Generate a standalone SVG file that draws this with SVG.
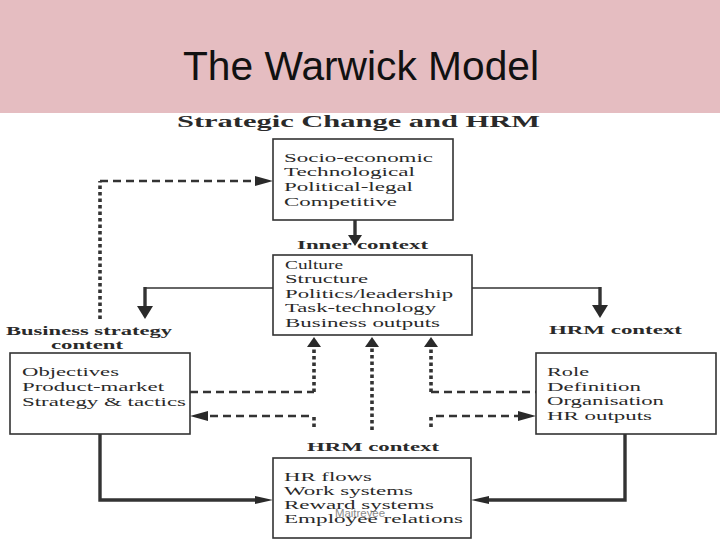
<svg xmlns="http://www.w3.org/2000/svg" width="720" height="540" viewBox="0 0 720 540">
<defs>
<style>
.box{fill:#fff;stroke:#333;stroke-width:1.6}
.t{font-family:"Liberation Serif","Times New Roman",serif;font-size:13.5px;fill:#2a2a2a}
.lb{font-family:"Liberation Serif","Times New Roman",serif;font-size:13.5px;font-weight:bold;fill:#2a2a2a}
.dash{fill:none;stroke:#333;stroke-width:2.6;stroke-dasharray:8 5}
.dot{fill:none;stroke:#333;stroke-width:3.6;stroke-dasharray:3.5 3}
.thin{fill:none;stroke:#333;stroke-width:1.6}
.thick{fill:none;stroke:#333;stroke-width:3.4}
.ah{fill:#2a2a2a}
</style>
</defs>
<rect x="0" y="0" width="720" height="540" fill="#fff"/>
<rect x="0" y="0" width="720" height="113" fill="#e5bdc1"/>
<text x="361" y="80" text-anchor="middle" font-family="'Liberation Sans',Arial,sans-serif" font-size="40" fill="#111" textLength="356" lengthAdjust="spacingAndGlyphs">The Warwick Model</text>
<text x="177" y="127" font-family="'Liberation Serif','Times New Roman',serif" font-size="17.5" font-weight="bold" fill="#2a2a2a" textLength="363" lengthAdjust="spacingAndGlyphs">Strategic Change and HRM</text>

<g id="connectors">
<path class="dot" d="M100,319 V181"/>
<path class="dash" d="M100,181 H255"/>
<polygon class="ah" points="255,176 273,181 255,186"/>
<path class="thick" d="M355,220 V236"/>
<polygon class="ah" points="348,235 362,235 355,246"/>
<path class="thin" d="M273,288 H145"/>
<path class="thick" d="M145,287 V307"/>
<polygon class="ah" points="137,306 153,306 145,319"/>
<path class="thin" d="M472,288 H600"/>
<path class="thick" d="M600,287 V306"/>
<polygon class="ah" points="592,305 608,305 600,318"/>
<path class="dot" d="M314,392 V347"/>
<path class="dot" d="M372,430 V347"/>
<path class="dot" d="M431,392 V347"/>
<polygon class="ah" points="307,347 321,347 314,337"/>
<polygon class="ah" points="365,347 379,347 372,337"/>
<polygon class="ah" points="424,347 438,347 431,337"/>
<path class="dash" d="M190,392 H314"/>
<path class="dash" d="M431,392 H536"/>
<path class="dash" d="M309,416 H207"/>
<polygon class="ah" points="208,411 190,416 208,421"/>
<path class="dot" d="M314,417 V430"/>
<path class="dash" d="M436,416 H519"/>
<polygon class="ah" points="518,411 536,416 518,421"/>
<path class="dot" d="M431,417 V430"/>
<path class="thick" d="M100,434 V500 H256"/>
<polygon class="ah" points="255,496 273,500 255,504"/>
<path class="thick" d="M625,434 V500 H489"/>
<polygon class="ah" points="489,496 471,500 489,504"/>
</g>

<g id="outer-context">
<rect class="box" x="273" y="139" width="180" height="81"/>
<text class="t" x="284" y="162" textLength="149" lengthAdjust="spacingAndGlyphs">Socio-economic</text>
<text class="t" x="284" y="176" textLength="131" lengthAdjust="spacingAndGlyphs">Technological</text>
<text class="t" x="284" y="191" textLength="129" lengthAdjust="spacingAndGlyphs">Political-legal</text>
<text class="t" x="284" y="205.5" textLength="113" lengthAdjust="spacingAndGlyphs">Competitive</text>
</g>

<g id="inner-context">
<text class="lb" x="297" y="249" textLength="131" lengthAdjust="spacingAndGlyphs">Inner context</text>
<rect class="box" x="273" y="255" width="199" height="80"/>
<text class="t" x="285" y="268.5" textLength="58" lengthAdjust="spacingAndGlyphs">Culture</text>
<text class="t" x="285" y="283" textLength="83" lengthAdjust="spacingAndGlyphs">Structure</text>
<text class="t" x="285" y="297.5" textLength="168" lengthAdjust="spacingAndGlyphs">Politics/leadership</text>
<text class="t" x="285" y="312" textLength="151" lengthAdjust="spacingAndGlyphs">Task-technology</text>
<text class="t" x="285" y="327" textLength="155" lengthAdjust="spacingAndGlyphs">Business outputs</text>
</g>

<g id="business-strategy">
<text class="lb" x="6" y="335" textLength="166" lengthAdjust="spacingAndGlyphs">Business strategy</text>
<text class="lb" x="51" y="349" textLength="72" lengthAdjust="spacingAndGlyphs">content</text>
<rect class="box" x="10" y="353" width="180" height="81"/>
<text class="t" x="22" y="376" textLength="97" lengthAdjust="spacingAndGlyphs">Objectives</text>
<text class="t" x="22" y="391" textLength="142" lengthAdjust="spacingAndGlyphs">Product-market</text>
<text class="t" x="22" y="406" textLength="164" lengthAdjust="spacingAndGlyphs">Strategy &amp; tactics</text>
</g>

<g id="hrm-context-right">
<text class="lb" x="549" y="334" textLength="133" lengthAdjust="spacingAndGlyphs">HRM context</text>
<rect class="box" x="536" y="353" width="180" height="81"/>
<text class="t" x="547" y="376" textLength="42" lengthAdjust="spacingAndGlyphs">Role</text>
<text class="t" x="547" y="391" textLength="94" lengthAdjust="spacingAndGlyphs">Definition</text>
<text class="t" x="547" y="405" textLength="117" lengthAdjust="spacingAndGlyphs">Organisation</text>
<text class="t" x="547" y="420" textLength="105" lengthAdjust="spacingAndGlyphs">HR outputs</text>
</g>

<g id="hrm-content">
<text class="lb" x="307" y="451" textLength="132" lengthAdjust="spacingAndGlyphs">HRM context</text>
<rect class="box" x="273" y="458" width="198" height="80"/>
<text class="t" x="284" y="481" textLength="88" lengthAdjust="spacingAndGlyphs">HR flows</text>
<text class="t" x="284" y="495" textLength="129" lengthAdjust="spacingAndGlyphs">Work systems</text>
<text class="t" x="284" y="509" textLength="150" lengthAdjust="spacingAndGlyphs">Reward systems</text>
<text class="t" x="284" y="523" textLength="179" lengthAdjust="spacingAndGlyphs">Employee relations</text>
<text x="335" y="517" font-family="'Liberation Sans',Arial,sans-serif" font-size="11.5" fill="#8a8a8a" textLength="50" lengthAdjust="spacingAndGlyphs">Maitreyee</text>
</g>
</svg>
